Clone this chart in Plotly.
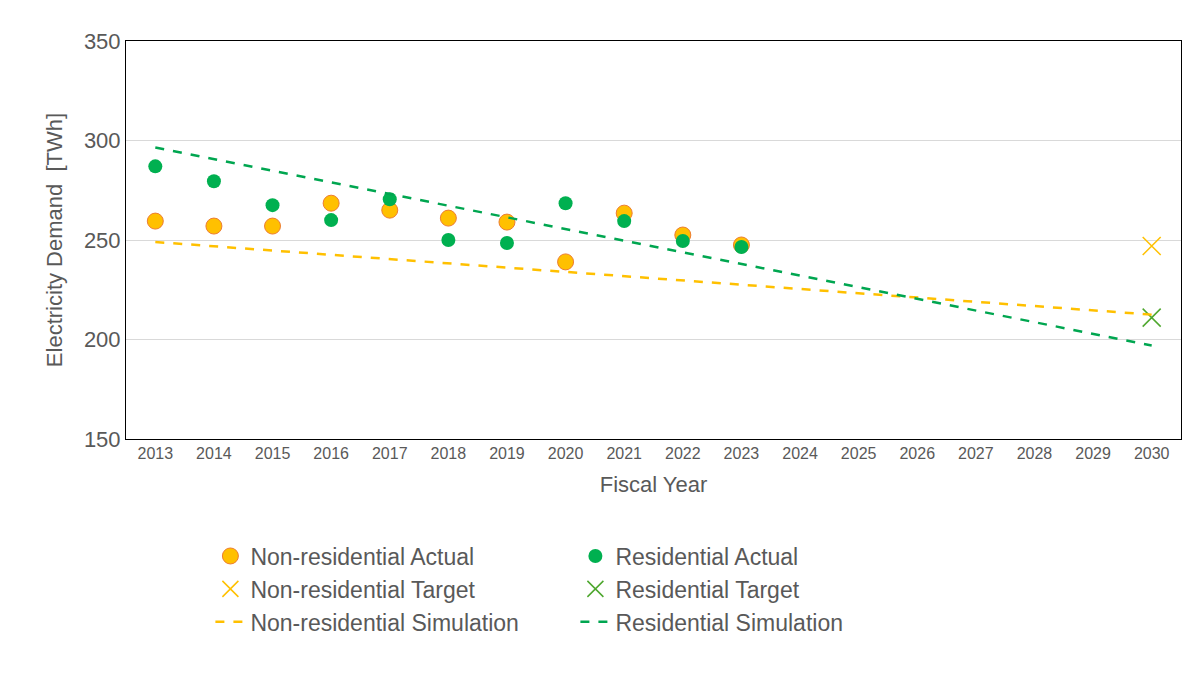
import plotly.graph_objects as go

years = [str(y) for y in range(2013, 2031)]
actual_years = [str(y) for y in range(2013, 2024)]

nonres_actual = [259.5, 257, 257, 268.5, 265, 261, 259, 239, 263.5, 252.5, 247.5]
res_actual = [287, 279.5, 267.5, 260, 270.5, 250, 248.5, 268.5, 259.5, 249.5, 246.5]

target_year = ["2030"]
nonres_target = [247]
res_target = [211]

sim_years = ["2013", "2030"]
nonres_sim = [249, 212.5]
res_sim = [296.5, 197]

orange = "#FFC000"
green = "#00B050"
font = "Liberation Sans, Arial, sans-serif"

fig = go.Figure()
fig.add_trace(go.Scatter(x=actual_years, y=nonres_actual, mode="markers", name="Non-residential Actual",
                         marker=dict(color=orange, size=16, line=dict(color="#ED7D31", width=1))))
fig.add_trace(go.Scatter(x=actual_years, y=res_actual, mode="markers", name="Residential Actual",
                         marker=dict(color=green, size=14)))
fig.add_trace(go.Scatter(x=target_year, y=nonres_target, mode="markers", name="Non-residential Target",
                         marker=dict(symbol="x-thin", size=18, line=dict(color=orange, width=1.5))))
fig.add_trace(go.Scatter(x=target_year, y=res_target, mode="markers", name="Residential Target",
                         marker=dict(symbol="x-thin", size=18, line=dict(color="#4EA72E", width=1.5))))
fig.add_trace(go.Scatter(x=sim_years, y=nonres_sim, mode="lines", name="Non-residential Simulation",
                         line=dict(color=orange, width=2.5, dash="dash")))
fig.add_trace(go.Scatter(x=sim_years, y=res_sim, mode="lines", name="Residential Simulation",
                         line=dict(color="#00A650", width=2.5, dash="dash")))

fig.update_layout(
    width=1200, height=682,
    plot_bgcolor="white", paper_bgcolor="white",
    font=dict(family=font, color="#595959"),
    margin=dict(l=118, r=27, t=33, b=251),
    legend=dict(orientation="h", x=0.08, xanchor="left", y=-0.24, yanchor="top",
                entrywidth=320, entrywidthmode="pixels", font=dict(size=23), tracegroupgap=0),
)
fig.update_xaxes(type="category", categoryorder="array", categoryarray=years, range=[-0.5, 17.5],
                 showline=True, linecolor="black", linewidth=1, mirror=True,
                 tickfont=dict(size=16), title=dict(text="Fiscal Year", font=dict(size=22)),
                 showgrid=False)
fig.update_yaxes(range=[150, 350], dtick=50, showline=True, linecolor="black", linewidth=1, mirror=True,
                 gridcolor="#D9D9D9", tickfont=dict(size=22),
                 title=dict(text="Electricity Demand  [TWh]", font=dict(size=22)), zeroline=False)

fig.write_html("out.html")
